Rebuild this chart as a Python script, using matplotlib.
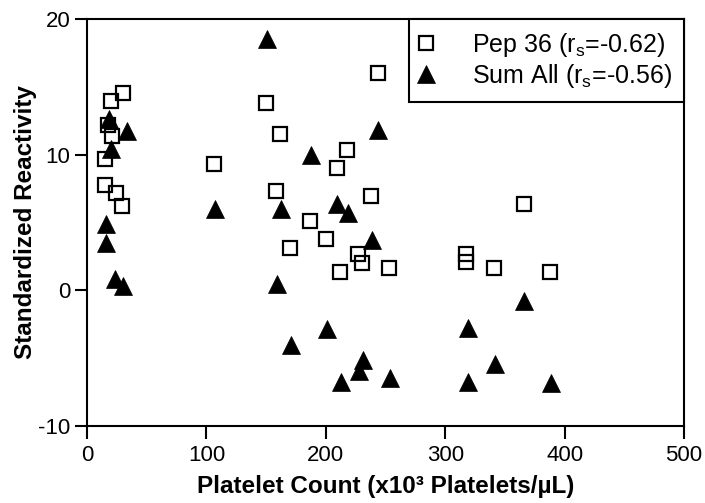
import numpy as np
import matplotlib.pyplot as plt

plt.rcParams['font.family'] = ['Liberation Sans', 'DejaVu Sans']
plt.rcParams['mathtext.default'] = 'regular'
plt.rcParams['axes.unicode_minus'] = False

# Pep 36 standardized reactivity vs platelet count
pep_x = [30.4, 19.8, 17.8, 21.2, 15, 15, 24, 29,
         106.2, 150.2, 162, 158, 169.7, 186.5, 218, 209.3, 238, 199.8,
         226.8, 230.2, 212, 253.3, 243.6, 317.4, 317.4, 341, 388, 366]
pep_y = [14.57, 13.95, 12.2, 11.37, 9.65, 7.8, 7.2, 6.2,
         9.28, 13.78, 11.5, 7.3, 3.15, 5.08, 10.34, 9.04, 6.95, 3.76,
         2.65, 1.99, 1.38, 1.62, 16.05, 2.65, 2.1, 1.62, 1.35, 6.35]

# Sum of all peptides
sum_x = [18.7, 33.1, 20, 15.9, 15.9, 23.4, 29.8,
         107, 150.8, 162.8, 159, 171, 244, 187.9, 209.6, 218.5, 238.9,
         201, 231, 227.7, 213, 253.9, 365.7, 318.8, 342, 318.8, 388.5]
sum_y = [12.65, 11.74, 10.4, 4.86, 3.5, 0.8, 0.3,
         5.97, 18.5, 6.0, 0.5, -4.0, 11.8, 10.0, 6.34, 5.67, 3.7,
         -2.87, -5.13, -5.94, -6.73, -6.49, -0.8, -2.8, -5.45, -6.73, -6.85]

fig = plt.figure(figsize=(7.05, 5.03), dpi=100)
ax = fig.add_axes([0.1234, 0.1531, 0.8468, 0.8091])

ax.plot(pep_x, pep_y, 's', ms=9.8, mfc='none', mec='black', mew=1.6,
        label='Pep 36 (r$_s$=-0.62)', zorder=2)
ax.plot(sum_x, sum_y, '^', ms=12.5, color='black', mec='black', mew=0.5,
        label='Sum All (r$_s$=-0.56)', zorder=3)

ax.set_xlim(0, 500)
ax.set_ylim(-10, 20)
ax.set_xticks(np.arange(0, 501, 100))
ax.set_yticks([-10, 0, 10, 20])
for s in ax.spines.values():
    s.set_linewidth(1.5)
ax.tick_params(direction='out', length=9, width=1.5, labelsize=16)
ax.tick_params(axis='x', pad=5)
ax.tick_params(axis='y', pad=3)

ax.set_xlabel('Platelet Count (x10³ Platelets/µL)', fontsize=17.5, fontweight='bold', labelpad=6)
ax.set_ylabel('Standardized Reactivity', fontsize=17.5, fontweight='bold', labelpad=1)

leg = ax.legend(loc='upper right', borderaxespad=0, fontsize=18, fancybox=False,
                edgecolor='black', framealpha=1, handletextpad=1.6,
                borderpad=0.48, labelspacing=0.1, handlelength=0.45)
leg.get_frame().set_linewidth(1.5)

fig.savefig('out.png', dpi=100)
